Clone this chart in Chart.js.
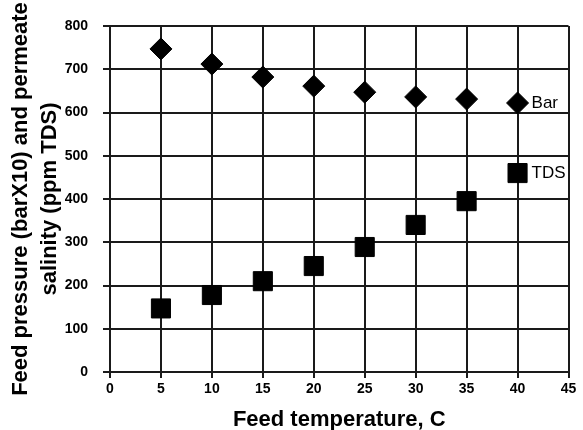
<!DOCTYPE html>
<html>
<head>
<meta charset="utf-8">
<script src="https://cdn.jsdelivr.net/npm/chart.js@4.4.1/dist/chart.umd.min.js"></script>
<style>
    body { margin: 0; background: #fff; }
    canvas { display: block; }
</style>
</head>
<body>
<canvas id="grafico" width="583" height="430"></canvas>
<script>
// dados
const temperaturas = [5, 10, 15, 20, 25, 30, 35, 40];
const pressaoBar = [747, 712, 682, 661, 647, 636, 631, 622];
const salinidadeTDS = [147, 178, 210, 245, 289, 340, 395, 460];
const xTicks = [0, 5, 10, 15, 20, 25, 30, 35, 40, 45];
const yTicks = [0, 100, 200, 300, 400, 500, 600, 700, 800];
const nomesSeries = ['Bar', 'TDS'];

const fonte = "'Liberation Sans', Arial, sans-serif";
const corGrade = '#1a1a1a';

function pontos(valores) {
    return temperaturas.map((t, i) => ({ x: t, y: valores[i] }));
}

// escreve "Bar" e "TDS" ao lado do ultimo ponto de cada serie
const rotulosSeries = {
    id: 'rotulosSeries',
    afterDatasetsDraw(chart) {
        const ctx = chart.ctx;
        ctx.save();
        ctx.font = '17px ' + fonte;
        ctx.fillStyle = '#000';
        ctx.textAlign = 'left';
        ctx.textBaseline = 'middle';
        chart.data.datasets.forEach((ds, i) => {
            const ultimo = ds.data[ds.data.length - 1];
            const px = chart.scales.x.getPixelForValue(ultimo.x);
            const py = chart.scales.y.getPixelForValue(ultimo.y);
            ctx.fillText(ds.label, px + 14, py);
        });
        ctx.restore();
    }
};

new Chart(document.getElementById('grafico').getContext('2d'), {
    type: 'scatter',
    data: {
        datasets: [
            {
                label: nomesSeries[0],
                data: pontos(pressaoBar),
                pointStyle: 'rectRot',
                pointRadius: 11,
                backgroundColor: '#000',
                borderColor: '#000',
                borderWidth: 1
            },
            {
                label: nomesSeries[1],
                data: pontos(salinidadeTDS),
                pointStyle: 'rect',
                pointRadius: 13.5,
                backgroundColor: '#000',
                borderColor: '#000',
                borderWidth: 1
            }
        ]
    },
    options: {
        responsive: false,
        animation: false,
        layout: { padding: { top: 26, right: 13, left: 0, bottom: 0 } },
        plugins: {
            legend: { display: false },
            tooltip: { enabled: false }
        },
        scales: {
            x: {
                type: 'linear',
                min: 0,
                max: 45,
                afterFit: s => { s.height = 58; },
                afterBuildTicks: s => { s.ticks = xTicks.map(v => ({ value: v })); },
                grid: { color: corGrade, lineWidth: 2, tickLength: 6, tickColor: corGrade },
                border: { color: corGrade, width: 2 },
                ticks: {
                    color: '#000',
                    padding: 3,
                    maxRotation: 0,
                    font: { family: fonte, size: 14, weight: 'bold' }
                },
                title: {
                    display: true,
                    text: 'Feed temperature, C',
                    color: '#000',
                    padding: { top: 0, bottom: -3 },
                    font: { family: fonte, size: 22, weight: 'bold' }
                }
            },
            y: {
                type: 'linear',
                min: 0,
                max: 800,
                afterFit: s => { s.width = 110; },
                afterBuildTicks: s => { s.ticks = yTicks.map(v => ({ value: v })); },
                grid: { color: corGrade, lineWidth: 2, tickLength: 7, tickColor: corGrade },
                border: { color: corGrade, width: 2 },
                ticks: {
                    color: '#000',
                    padding: 15,
                    font: { family: fonte, size: 14, weight: 'bold' }
                },
                title: {
                    display: true,
                    text: ['Feed pressure (barX10) and permeate', 'salinity (ppm TDS)'],
                    color: '#000',
                    padding: { top: 6, bottom: 0 },
                    font: { family: fonte, size: 22, weight: 'bold', lineHeight: 1.32 }
                }
            }
        }
    },
    plugins: [rotulosSeries]
});
</script>
</body>
</html>
